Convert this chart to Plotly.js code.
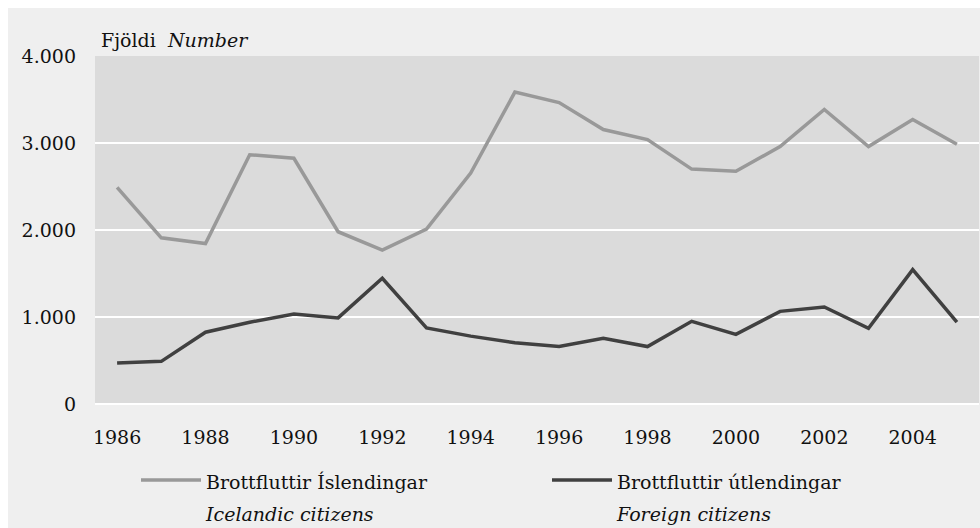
<!DOCTYPE html>
<html>
<head>
<meta charset="utf-8">
<script src="https://cdn.plot.ly/plotly-3.0.1.min.js"></script>
<style>
  html, body { margin: 0; padding: 0; background: #ffffff; }
  #chart { position: absolute; left: 8px; top: 8px; width: 972px; height: 520px; }
</style>
</head>
<body>
<div id="chart"></div>
<script>
// Brottfluttir 1986-2005 (emigrants)
const years = [1986, 1987, 1988, 1989, 1990, 1991, 1992, 1993, 1994, 1995,
    1996, 1997, 1998, 1999, 2000, 2001, 2002, 2003, 2004, 2005];
const icelandic = [2490, 1910, 1845, 2865, 2825, 1980, 1770, 2010, 2655, 3585,
    3465, 3155, 3040, 2700, 2675, 2960, 3385, 2960, 3270, 2985];
const foreign = [470, 490, 825, 940, 1035, 990, 1445, 875, 780, 705,
    660, 755, 660, 950, 800, 1065, 1115, 870, 1545, 940];
const yTicks = [0, 1000, 2000, 3000, 4000];

const serif = 'DejaVu Serif, serif';
const textColor = '#111111';

// legend font is bigger than the text so the two lines sit further apart
function legendName(is, en) {
    return `<span style="font-size:19px">${is}</span><br><span style="font-size:19px"><i>${en}</i></span>`;
}

const traces = [
    {
        type: 'scatter',
        mode: 'lines',
        x: years,
        y: icelandic,
        name: legendName('Brottfluttir Íslendingar', 'Icelandic citizens'),
        line: { color: '#999999', width: 3.5 },
        hoverinfo: 'x+y',
    },
    {
        type: 'scatter',
        mode: 'lines',
        x: years,
        y: foreign,
        name: legendName('Brottfluttir útlendingar', 'Foreign citizens'),
        line: { color: '#404040', width: 3.5 },
        hoverinfo: 'x+y',
    },
];

const layout = {
    width: 972,
    height: 520,
    margin: { l: 87, r: 1, t: 48, b: 124 },
    paper_bgcolor: '#efefef',
    plot_bgcolor: '#dbdbdb',
    separators: ',.',
    font: { family: serif, size: 19, color: textColor },
    showlegend: true,
    xaxis: {
        range: [1985.5, 2005.5],
        tickmode: 'array',
        tickvals: years.filter(y => (y - 1986) % 2 === 0),
        showgrid: false,
        zeroline: false,
        showline: false,
        ticks: '',
        ticklabelstandoff: 20,
        tickfont: { family: serif, size: 19, color: textColor },
    },
    yaxis: {
        range: [0, 4000],
        tickmode: 'array',
        tickvals: yTicks,
        tickformat: ',d',
        showgrid: true,
        gridcolor: '#ffffff',
        gridwidth: 2.5,
        zeroline: true,
        zerolinecolor: '#ffffff',
        zerolinewidth: 2.5,
        showline: false,
        ticks: '',
        ticklabelstandoff: 18,
        tickfont: { family: serif, size: 19, color: textColor },
    },
    legend: {
        orientation: 'h',
        xref: 'container',
        yref: 'container',
        x: 128 / 972,
        y: 1 - 450 / 520,
        xanchor: 'left',
        yanchor: 'top',
        valign: 'top',
        bgcolor: 'rgba(0,0,0,0)',
        itemwidth: 60,
        entrywidth: 336,
        entrywidthmode: 'pixels',
        tracegroupgap: 0,
        font: { family: serif, size: 24, color: textColor },
    },
    annotations: [
        {
            xref: 'paper',
            yref: 'paper',
            x: 4 / 884,
            y: 1,
            xanchor: 'left',
            yanchor: 'bottom',
            yshift: 3,
            showarrow: false,
            text: 'Fjöldi&nbsp;&nbsp;<i>Number</i>',
            font: { family: serif, size: 19, color: textColor },
        },
    ],
};

Plotly.newPlot('chart', traces, layout, { displayModeBar: false, staticPlot: true });
</script>
</body>
</html>
